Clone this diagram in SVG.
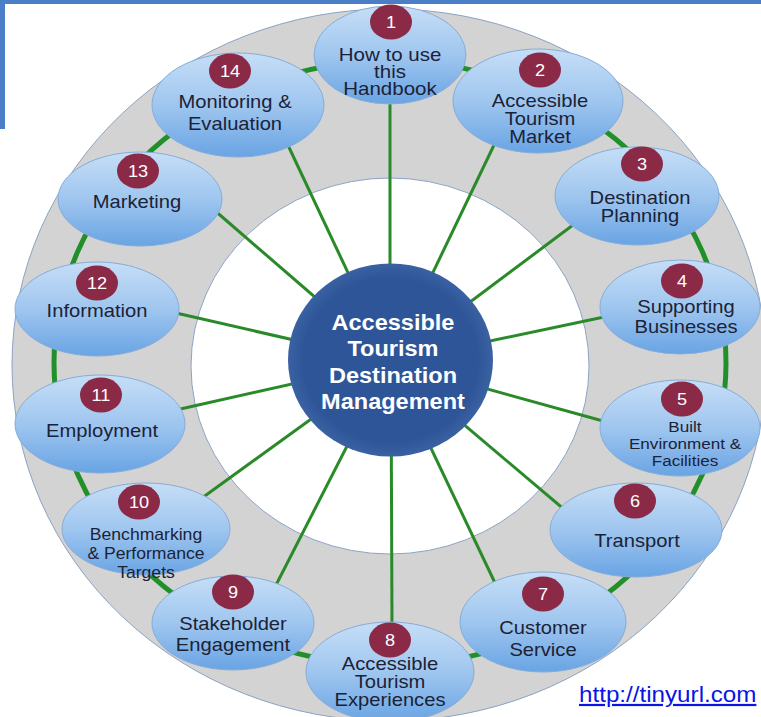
<svg xmlns="http://www.w3.org/2000/svg" width="761" height="717" viewBox="0 0 761 717">
<style>
.lbl{font-family:"Liberation Sans",Arial,sans-serif;font-size:18px;fill:#1c2236;text-anchor:middle}
.num{font-family:"Liberation Sans",Arial,sans-serif;font-size:16.5px;fill:#ffffff;text-anchor:middle}
.ctr{font-family:"Liberation Sans",Arial,sans-serif;font-size:22px;font-weight:bold;fill:#ffffff;text-anchor:middle}
.node{fill:url(#ng);stroke:#86acd8;stroke-width:1}
.badge{fill:#8a2a47}
.spoke{stroke:#2a8a2a;stroke-width:3;fill:none}
.ring{stroke:#22902a;stroke-width:5;fill:none}
</style>
<defs>
<linearGradient id="ng" x1="0" y1="0" x2="0" y2="1">
<stop offset="0" stop-color="#c6def7"/>
<stop offset="0.5" stop-color="#9fc6ef"/>
<stop offset="1" stop-color="#69a4e4"/>
</linearGradient>
<radialGradient id="cg" cx="0.5" cy="0.5" r="0.5">
<stop offset="0.85" stop-color="#2d5597"/>
<stop offset="1" stop-color="#3a62a3"/>
</radialGradient>
</defs>
<rect x="0" y="0" width="761" height="717" fill="#ffffff"/>
<g id="frame">
<rect x="0" y="0" width="761" height="4" fill="#4a7ec6"/>
<rect x="0" y="0" width="5" height="129" fill="#4a7ec6"/>
</g>
<g id="rings">
<ellipse cx="389" cy="365" rx="377" ry="356" fill="#d3d3d3" stroke="#8aa3c4" stroke-width="1"/>
<ellipse cx="390" cy="366" rx="199" ry="188" fill="#ffffff" stroke="#8aa3c4" stroke-width="1"/>
</g>
<g id="connectors">
<ellipse class="ring" cx="390" cy="363" rx="336" ry="302"/>
<line class="spoke" x1="390" y1="362" x2="390" y2="100"/>
<line class="spoke" x1="390" y1="362" x2="495" y2="143"/>
<line class="spoke" x1="390" y1="362" x2="573" y2="225"/>
<line class="spoke" x1="390" y1="362" x2="604" y2="317"/>
<line class="spoke" x1="390" y1="362" x2="603" y2="421"/>
<line class="spoke" x1="390" y1="362" x2="566" y2="511"/>
<line class="spoke" x1="390" y1="362" x2="496" y2="585"/>
<line class="spoke" x1="391" y1="362" x2="392" y2="626"/>
<line class="spoke" x1="390" y1="362" x2="275" y2="587"/>
<line class="spoke" x1="390" y1="362" x2="202" y2="498"/>
<line class="spoke" x1="390" y1="362" x2="176" y2="410"/>
<line class="spoke" x1="390" y1="362" x2="176" y2="313"/>
<line class="spoke" x1="390" y1="362" x2="213" y2="209"/>
<line class="spoke" x1="390" y1="362" x2="286" y2="141"/>
</g>
<g id="center">
<ellipse cx="390.5" cy="360" rx="102.5" ry="96.5" fill="url(#cg)"/>
<text class="ctr" transform="translate(393 0) scale(1.07 1)"><tspan x="0" y="330">Accessible</tspan><tspan x="0" y="356.5">Tourism</tspan><tspan x="0" y="383">Destination</tspan><tspan x="0" y="409.5">Management</tspan></text>
</g>
<g id="n1">
<ellipse class="node" cx="390" cy="55" rx="76" ry="49"/>
<ellipse class="badge" cx="391" cy="22" rx="21" ry="17.5"/>
<text class="num" transform="translate(391 0) scale(1.1 1)" x="0" y="28">1</text>
<text class="lbl" transform="translate(390 0) scale(1.14 1)"><tspan x="0" y="61">How to use</tspan><tspan x="0" y="78">this</tspan><tspan x="0" y="95.5">Handbook</tspan></text>
</g>
<g id="n2">
<ellipse class="node" cx="538" cy="101" rx="85" ry="52"/>
<ellipse class="badge" cx="540" cy="70" rx="21" ry="17.5"/>
<text class="num" transform="translate(540 0) scale(1.1 1)" x="0" y="76">2</text>
<text class="lbl" transform="translate(540 0) scale(1.12 1)"><tspan x="0" y="107">Accessible</tspan><tspan x="0" y="125">Tourism</tspan><tspan x="0" y="143">Market</tspan></text>
</g>
<g id="n3">
<ellipse class="node" cx="637" cy="196" rx="82" ry="49"/>
<ellipse class="badge" cx="642" cy="164" rx="21" ry="17.5"/>
<text class="num" transform="translate(642 0) scale(1.1 1)" x="0" y="170">3</text>
<text class="lbl" transform="translate(640 0) scale(1.12 1)"><tspan x="0" y="204">Destination</tspan><tspan x="0" y="222">Planning</tspan></text>
</g>
<g id="n4">
<ellipse class="node" cx="680" cy="307" rx="80" ry="47"/>
<ellipse class="badge" cx="682" cy="281" rx="21" ry="17.5"/>
<text class="num" transform="translate(682 0) scale(1.1 1)" x="0" y="287">4</text>
<text class="lbl" transform="translate(686 0) scale(1.12 1)"><tspan x="0" y="313">Supporting</tspan><tspan x="0" y="333">Businesses</tspan></text>
</g>
<g id="n5">
<ellipse class="node" cx="680" cy="428" rx="80" ry="48"/>
<ellipse class="badge" cx="682" cy="399" rx="21" ry="17.5"/>
<text class="num" transform="translate(682 0) scale(1.1 1)" x="0" y="405">5</text>
<text class="lbl" style="font-size:15px" transform="translate(685 0) scale(1.14 1)"><tspan x="0" y="432">Built</tspan><tspan x="0" y="449">Environment &amp;</tspan><tspan x="0" y="466">Facilities</tspan></text>
</g>
<g id="n6">
<ellipse class="node" cx="636" cy="530" rx="86" ry="47"/>
<ellipse class="badge" cx="635" cy="501" rx="21" ry="17.5"/>
<text class="num" transform="translate(635 0) scale(1.1 1)" x="0" y="507">6</text>
<text class="lbl" transform="translate(637 0) scale(1.12 1)" x="0" y="547">Transport</text>
</g>
<g id="n7">
<ellipse class="node" cx="543" cy="622" rx="83" ry="50"/>
<ellipse class="badge" cx="543" cy="594" rx="21" ry="17.5"/>
<text class="num" transform="translate(543 0) scale(1.1 1)" x="0" y="600">7</text>
<text class="lbl" transform="translate(543 0) scale(1.12 1)"><tspan x="0" y="634">Customer</tspan><tspan x="0" y="656">Service</tspan></text>
</g>
<g id="n8">
<ellipse class="node" cx="390" cy="672" rx="84" ry="50"/>
<ellipse class="badge" cx="390" cy="640" rx="21" ry="17.5"/>
<text class="num" transform="translate(390 0) scale(1.1 1)" x="0" y="646">8</text>
<text class="lbl" transform="translate(390 0) scale(1.12 1)"><tspan x="0" y="670">Accessible</tspan><tspan x="0" y="688">Tourism</tspan><tspan x="0" y="706">Experiences</tspan></text>
</g>
<g id="n9">
<ellipse class="node" cx="233" cy="623" rx="81" ry="47"/>
<ellipse class="badge" cx="233" cy="592" rx="21" ry="17.5"/>
<text class="num" transform="translate(233 0) scale(1.1 1)" x="0" y="598">9</text>
<text class="lbl" transform="translate(233 0) scale(1.12 1)"><tspan x="0" y="630">Stakeholder</tspan><tspan x="0" y="651">Engagement</tspan></text>
</g>
<g id="n10">
<ellipse class="node" cx="146" cy="529" rx="84" ry="46"/>
<ellipse class="badge" cx="139" cy="502" rx="21" ry="17.5"/>
<text class="num" transform="translate(139 0) scale(1.1 1)" x="0" y="508">10</text>
<text class="lbl" style="font-size:16px" transform="translate(146 0) scale(1.1 1)"><tspan x="0" y="540">Benchmarking</tspan><tspan x="0" y="559">&amp; Performance</tspan><tspan x="0" y="578">Targets</tspan></text>
</g>
<g id="n11">
<ellipse class="node" cx="100" cy="424" rx="85" ry="49"/>
<ellipse class="badge" cx="101" cy="395" rx="21" ry="17.5"/>
<text class="num" transform="translate(101 0) scale(1.1 1)" x="0" y="401">11</text>
<text class="lbl" transform="translate(102 0) scale(1.12 1)" x="0" y="437">Employment</text>
</g>
<g id="n12">
<ellipse class="node" cx="97" cy="309" rx="82" ry="47"/>
<ellipse class="badge" cx="97" cy="283" rx="21" ry="17.5"/>
<text class="num" transform="translate(97 0) scale(1.1 1)" x="0" y="289">12</text>
<text class="lbl" transform="translate(97 0) scale(1.12 1)" x="0" y="317">Information</text>
</g>
<g id="n13">
<ellipse class="node" cx="140" cy="199" rx="82" ry="47"/>
<ellipse class="badge" cx="138" cy="171" rx="21" ry="17.5"/>
<text class="num" transform="translate(138 0) scale(1.1 1)" x="0" y="177">13</text>
<text class="lbl" transform="translate(137 0) scale(1.12 1)" x="0" y="208">Marketing</text>
</g>
<g id="n14">
<ellipse class="node" cx="238" cy="105" rx="86" ry="52"/>
<ellipse class="badge" cx="230" cy="71" rx="21" ry="17.5"/>
<text class="num" transform="translate(230 0) scale(1.1 1)" x="0" y="77">14</text>
<text class="lbl" transform="translate(235 0) scale(1.12 1)"><tspan x="0" y="108">Monitoring &amp;</tspan><tspan x="0" y="130">Evaluation</tspan></text>
</g>
<g id="link">
<text transform="translate(579 0) scale(1.1 1)" x="0" y="702" style="font-family:'Liberation Sans',Arial,sans-serif;font-size:22px;fill:#0a14e6;text-decoration:underline">http://tinyurl.com</text>
</g>
</svg>
